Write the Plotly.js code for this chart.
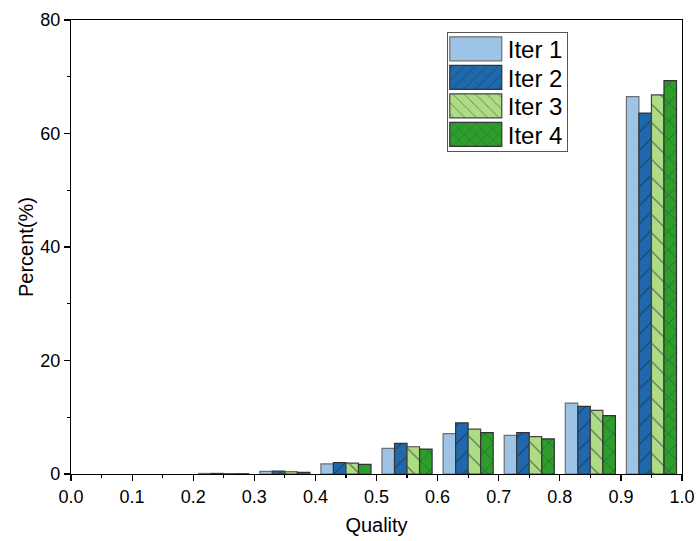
<!DOCTYPE html>
<html>
<head>
<meta charset="utf-8">
<script src="https://cdn.plot.ly/plotly-3.0.1.min.js"></script>
<style>html,body{margin:0;padding:0;background:#fff;}</style>
</head>
<body>
<div id="chart" style="width:698px;height:541px;"></div>
<script>
const binCenters = [0.05, 0.15, 0.25, 0.35, 0.45, 0.55, 0.65, 0.75, 0.85, 0.95];
const iter1 = [null, null, 0.1, 0.45, 1.8, 4.5, 7.1, 6.8, 12.5, 66.5];
const iter2 = [null, null, 0.1, 0.5, 2.0, 5.4, 9.0, 7.3, 11.9, 63.6];
const iter3 = [null, null, 0.05, 0.4, 1.9, 4.8, 7.9, 6.6, 11.2, 66.8];
const iter4 = [null, null, 0.05, 0.3, 1.7, 4.4, 7.3, 6.2, 10.3, 69.3];
const seriesNames = ['Iter 1', 'Iter 2', 'Iter 3', 'Iter 4'];

const colors = ['#9DC3E6', '#1F68AC', '#AEDC85', '#2E9E2A'];
const patterns = ['', '/', '\\', 'x'];
const outline = ['#6f6f6f', '#333333', '#444444', '#333333'];
const data = [iter1, iter2, iter3, iter4].map((vals, i) => ({
  type: 'bar',
  x: binCenters,
  y: vals,
  name: seriesNames[i],
  marker: {
    color: colors[i],
    line: {color: outline[i], width: 1.2},
    pattern: {shape: patterns[i], fgcolor: '#1f2f3f', fgopacity: 0.75, bgcolor: colors[i], fillmode: 'overlay', size: 13, solidity: 0.08}
  }
}));

const fam = 'Liberation Sans, Arial, sans-serif';
const tickFont = {family: fam, size: 18, color: '#000'};
const layout = {
  width: 698, height: 541,
  margin: {l: 71, r: 16, t: 20, b: 67},
  paper_bgcolor: '#fff', plot_bgcolor: '#fff',
  barmode: 'group', bargap: 0.18, bargroupgap: 0,
  font: tickFont,
  showlegend: true,
  legend: {
    x: 0.615, y: 0.974, xanchor: 'left', yanchor: 'top',
    bordercolor: '#555', borderwidth: 1, bgcolor: '#fff',
    font: {family: fam, size: 24, color: '#000'},
    tracegroupgap: 0, itemwidth: 50
  },
  xaxis: {
    range: [0, 1], dtick: 0.1, tick0: 0, tickformat: '.1f',
    ticks: 'outside', ticklen: 6, tickwidth: 1.2, tickcolor: '#000',
    showline: true, linecolor: '#000', linewidth: 1.2, mirror: true,
    showgrid: false, zeroline: false,
    minor: {dtick: 0.05, ticks: 'outside', ticklen: 3, tickcolor: '#000', showgrid: false},
    tickfont: tickFont,
    title: {text: 'Quality', font: {family: fam, size: 20, color: '#000'}, standoff: 12}
  },
  yaxis: {
    range: [0, 80], dtick: 20, tick0: 0,
    ticks: 'outside', ticklen: 6, tickwidth: 1.2, tickcolor: '#000',
    showline: true, linecolor: '#000', linewidth: 1.2, mirror: true,
    showgrid: false, zeroline: false,
    minor: {dtick: 10, ticks: 'outside', ticklen: 3, tickcolor: '#000', showgrid: false},
    tickfont: tickFont,
    title: {text: 'Percent(%)', font: {family: fam, size: 20, color: '#000'}, standoff: 1}
  }
};

function tweakLegend() {
  const leg = document.querySelector('#chart .legend');
  if (!leg) return;
  const traces = leg.querySelectorAll('g.traces');
  const rowH = 28.5, first = 17;
  traces.forEach((t, i) => {
    const tr = t.getAttribute('transform') || '';
    const m = tr.match(/translate\(\s*([-\d.]+)/);
    const tx = m ? parseFloat(m[1]) : 1;
    t.setAttribute('transform', 'translate(' + tx + ',' + (first + i * rowH) + ')');
    t.querySelectorAll('g.legendpoints path').forEach(p => {
      p.setAttribute('d', 'M26,12H-26V-12H26Z');
      p.setAttribute('transform', 'translate(' + (29 - tx) + ',0)');
    });
  });
  const bg = leg.querySelector('rect.bg');
  const h = first + 3 * rowH + 17;
  if (bg) { bg.setAttribute('height', h); bg.setAttribute('width', 120); }
  const clip = document.querySelector('clipPath[id*="legend"] rect');
  if (clip) { clip.setAttribute('height', h); clip.setAttribute('width', 120); }
}

Plotly.newPlot('chart', data, layout, {displayModeBar: false, staticPlot: true}).then(tweakLegend);
</script>
</body>
</html>
